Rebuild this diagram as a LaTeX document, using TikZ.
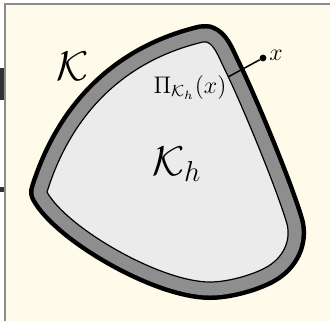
\documentclass[tikz,border=0pt]{standalone}
\usepackage{amsmath}
\definecolor{cream}{RGB}{255,251,234}
\definecolor{framegray}{RGB}{140,140,140}
\definecolor{bandgray}{RGB}{142,142,142}
\definecolor{innergray}{RGB}{235,235,235}
\definecolor{fragdark}{RGB}{50,50,50}
\tikzset{
  bigmath/.style={font=\fontsize{21}{25}\selectfont, inner sep=0pt},
  smallmath/.style={font=\fontsize{11.5}{14}\selectfont, inner sep=0pt},
  pointdot/.style={circle, fill=black, inner sep=0pt, minimum size=3.4pt},
}
\def\shapepath{(47,192) .. controls (71,115) and (123,61) .. (203,42)
  .. controls (213,39.6) and (219,58) .. (225,70)
  .. controls (238.5,97) and (275.8,185.6) .. (287,224)
  .. controls (291,240) and (284,258) .. (265,268)
  .. controls (251.8,275) and (228,282) .. (210,282)
  .. controls (160,282) and (66.2,227.2) .. (47,192) -- cycle}
\begin{document}
\begin{tikzpicture}[x=0.5pt,y=-0.5pt]
\useasboundingbox (0,0) rectangle (330,321);
\fill[white] (0,0) rectangle (330,321);
\fill[cream] (5,4) rectangle (330,321);
\draw[framegray, line width=0.6pt] (5,321) -- (5,4) -- (330,4);
% fragments at the left edge
\fill[fragdark] (0,68) rectangle (4,100);
\fill[fragdark] (0,187) rectangle (4,192);
% the set K and its approximation
\draw[black, line width=18pt, line join=round] \shapepath;
\draw[bandgray, line width=13.5pt, line join=round] \shapepath;
\filldraw[fill=innergray, draw=black, line width=0.6pt] \shapepath;
% labels
\node[bigmath] (K) at (73,66) {$\mathcal{K}$};
\node[bigmath] (Kh) at (177,164) {$\mathcal{K}_h$};
\node[smallmath, anchor=base] (pi) at (190,93) {$\Pi_{\mathcal{K}_h}(x)$};
\node[pointdot] (xpt) at (263,58) {};
\node[smallmath, anchor=base west] (xl) at (269,60) {$x$};
\coordinate (proj) at (228,77);
\draw[line width=0.75pt] (xpt) -- (proj);
\end{tikzpicture}
\end{document}
